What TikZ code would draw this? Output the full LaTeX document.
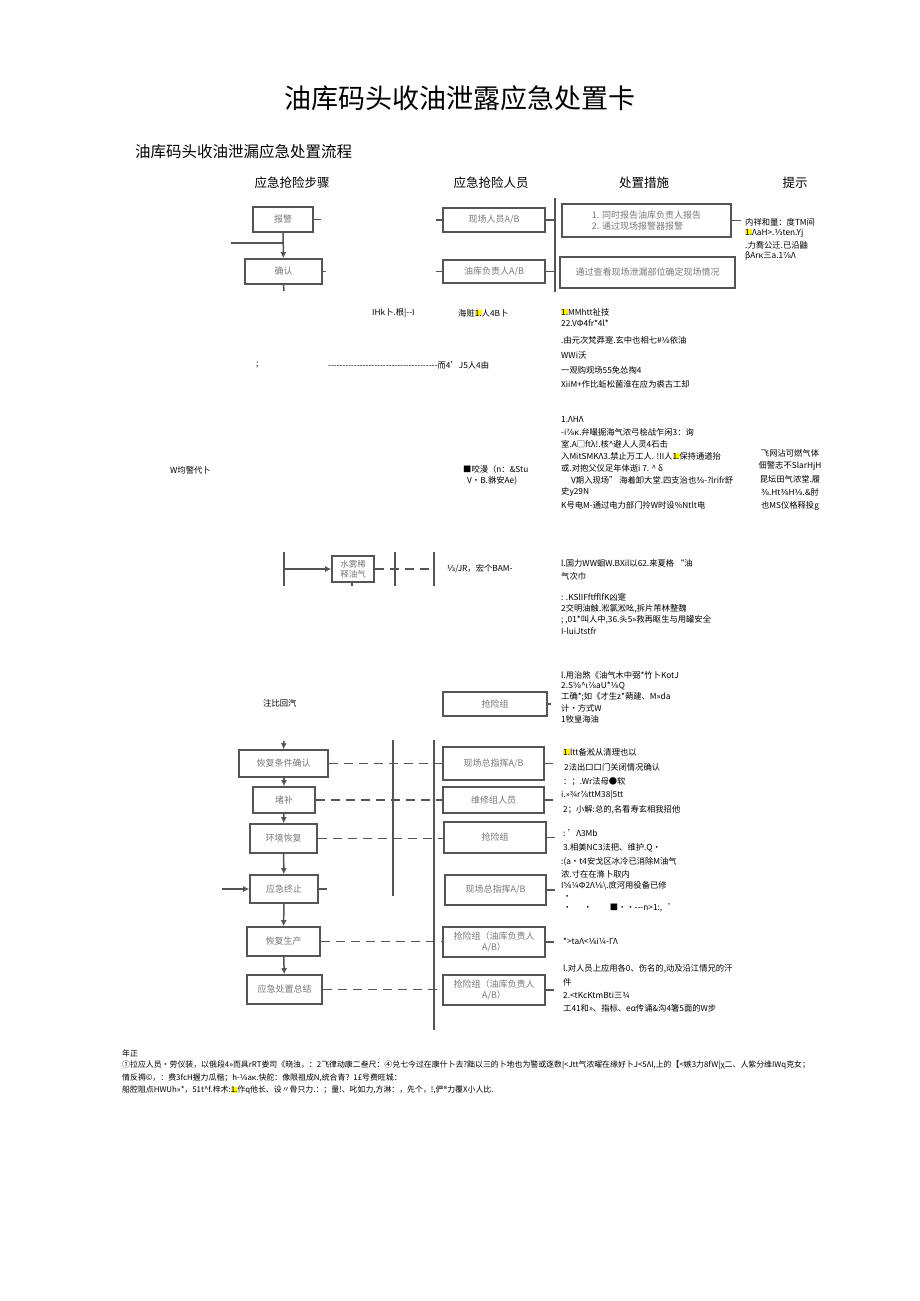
\documentclass[tikz,border=0pt]{standalone}
\usepackage{fontspec}
\setmainfont{Noto Sans CJK SC}
\newfontfamily\dvfont{DejaVu Sans}
\usetikzlibrary{arrows.meta}
\newcommand\hlt[1]{{\setlength{\fboxsep}{0pt}\colorbox{yellow}{#1}}}
\newcommand\fr[1]{{\dvfont #1}}
\definecolor{boxline}{RGB}{85,85,85}
\definecolor{boxtext}{RGB}{120,120,120}
\tikzset{
  box/.style={draw=boxline,line width=1.6pt,fill=white,inner sep=1pt,text=boxtext,
     font=\fontsize{9}{10.5}\selectfont,align=center},
  txt/.style={anchor=west,inner sep=0pt,font=\fontsize{8.3}{10}\selectfont},
  ctxt/.style={anchor=center,inner sep=0pt,font=\fontsize{8.3}{10}\selectfont},
  hdr/.style={anchor=center,inner sep=0pt,font=\fontsize{12.5}{14}\selectfont},
  foot/.style={anchor=west,inner sep=0pt,font=\fontsize{7.9}{9}\selectfont},
  ln/.style={draw=boxline,line width=1.5pt},
  arr/.style={draw=boxline,line width=1.5pt,-{Latex[length=6pt,width=6pt]}},
  dsh/.style={draw=boxline,line width=1.5pt,dash pattern=on 9pt off 6pt}
}
\begin{document}
\begin{tikzpicture}[x=1pt,y=-1pt]
\useasboundingbox[fill=white] (0,0) rectangle (920,1301);
% titles
\node[anchor=center,inner sep=0pt,font=\fontsize{27}{30}\selectfont] (title) at (460,98) {油库码头收油泄露应急处置卡};
\node[anchor=west,inner sep=0pt,font=\fontsize{15.5}{18}\selectfont] (sub) at (135,152) {油库码头收油泄漏应急处置流程};
\node[hdr] (h1) at (292,183) {应急抢险步骤};
\node[hdr] (h2) at (491,183) {应急抢险人员};
\node[hdr] (h3) at (644,183) {处置措施};
\node[hdr] (h4) at (795,183) {提示};

% ---------- top section ----------
\node[box,minimum width=60pt,minimum height=25pt] (bj) at (283,219.5) {报警};
\node[box,minimum width=77pt,minimum height=25pt] (qr) at (283.5,271.5) {确认};
\node[box,minimum width=102pt,minimum height=24pt] (xc1) at (494,220) {现场人员A/B};
\node[box,minimum width=102pt,minimum height=23pt] (fz1) at (494,271.5) {油库负责人A/B};
\node[box,minimum width=169pt,minimum height=33pt,align=left] (cz1) at (646.5,220.5) {1. 同时报告油库负责人报告\\2. 通过现场报警器报警};
\node[box,minimum width=175pt,minimum height=31pt] (cz2) at (647.5,272.5) {通过查看现场泄漏部位确定现场情况};
\draw[arr] (bj) -- (qr);
\coordinate (tl) at (231,243);
\coordinate (tj) at (284,243);
\draw[ln] (tl) -- (tj);
\coordinate (qrb) at (284,291);
\draw[ln] (qr.south) -- (qrb);
\coordinate (bjs) at (321,219.5);
\draw[ln] (bj.east) -- (bjs);
\coordinate (qrs) at (326,271.5);
\draw[ln] (qr.east) -- (qrs);
\coordinate (xcl) at (436,220);
\draw[ln] (xcl) -- (xc1.west);
\coordinate (fzl) at (436,271.5);
\draw[ln] (fzl) -- (fz1.west);
\coordinate (vt) at (555,198);
\coordinate (vb) at (555,292);
\draw[ln] (vt) -- (vb);
\draw[ln] (xc1.east) -- (xc1.east -| vt);
\draw[ln] (fz1.east) -- (fz1.east -| vt);
\coordinate (czs) at (741,220.5);
\draw[ln] (cz1.east) -- (czs);
\node[txt] (t1) at (745,222) {内祥和量：度TM间};
\node[txt] (t2) at (745,233) {\hlt{1.}ΛaH>.\fr{⅓}ten.Yj};
\node[txt] (t3) at (745,245) {.力喬公迁.已沿鼬};
\node[txt] (t4) at (745,256) {βArκ三a.1\fr{⅞}Λ};

% ---------- garbled middle ----------
\node[txt] (m1) at (372,313) {IHk卜.根|-{}-{}I};
\node[txt] (m2) at (458,313) {海赃\hlt{1.}人4B卜};
\node[txt] (m3) at (561,312) {\hlt{1.}MMhtt祉技};
\node[txt] (m4) at (561,323) {22.VΦ4fr*4l*};
\node[txt] (m5) at (561,340) {.由元次梵莽寔.玄中也相七\#\fr{⅛}依油};
\node[txt] (m6) at (561,355) {WWi沃};
\node[txt] (m7) at (561,370) {一观购观场55免怂掏4};
\node[txt] (m8) at (561,384) {XiiM+作比蚯松菌淮在应为裘古工却};
\node[txt] (m9) at (256,365) {;};
\node[txt] (m10) at (328,365) {-{}-{}-{}-{}-{}-{}-{}-{}-{}-{}-{}-{}-{}-{}-{}-{}-{}-{}-{}-{}-{}-{}-{}-{}-{}-{}-{}-{}-{}-{}-{}-{}-{}-{}-{}-{}-{}-{}而4'J5人4由};

\node[txt] (n1) at (170,470) {W均警代卜};
\node[txt] (n2) at (463,469) {■咬漫（n：\&Stu};
\node[txt] (n3) at (467,481) {V·B.貅安Ae)};
\node[txt] (n4) at (561,420) {1.ΛHΛ};
\node[txt] (n5) at (561,432) {-i\fr{⅞}κ.弁嘬掘海气浓弓桧战乍闲3：询};
\node[txt] (n6) at (561,444) {室.A□ftλ!.核\^{}避人人灵4石击};
\node[txt] (n7) at (561,456) {入MitSMKΛ3.禁止万工人. !II人\hlt{1.}保持通道抬};
\node[txt] (n8) at (561,468) {或.对抱父仪足年体逝i 7. \^{} δ};
\node[txt] (n9) at (571,480) {V期入现场” 海着卸大堂.四支治也\fr{⅜}-?lrifr舒};
\node[txt] (n10) at (561,492) {史y29N};
\node[txt] (n11) at (561,505) {K号电M-通过电力部门拎W时设\%Ntlt电};
\node[ctxt] (p1) at (790,453) {飞网沾可燃气体};
\node[ctxt] (p2) at (790,466) {佃警志不SlarHjH};
\node[ctxt] (p3) at (790,479) {昆坛田气浓堂.履};
\node[ctxt] (p4) at (790,492) {\fr{⅜}.Ht\fr{⅜}H\fr{⅛}.\&肘};
\node[ctxt] (p5) at (790,506) {也MS仪格释投g};

% ---------- water mist ----------
\coordinate (w1t) at (284,552);
\coordinate (w1b) at (284,586);
\draw[ln] (w1t) -- (w1b);
\node[box,minimum width=42pt,minimum height=26pt,font=\fontsize{8.5}{10}\selectfont] (sw) at (353,569) {水雾稀\\释油气};
\draw[arr] (sw.west -| w1t) -- (sw.west);
\coordinate (swb) at (352,586);
\draw[ln] (sw.south -| swb) -- (swb);
\coordinate (w2t) at (395,552);
\coordinate (w2b) at (395,586);
\coordinate (w3t) at (434,552);
\coordinate (w3b) at (434,586);
\draw[ln] (w2t) -- (w2b);
\draw[ln] (w3t) -- (w3b);
\draw[dsh] (sw.east) -- (sw.east -| w3t);
\node[txt] (w4) at (447,569) {\fr{⅓}/JR，宏个BAM-};
\node[txt] (w5) at (561,563) {l.国力WW蛔W.BXil以62.来夏格 “油};
\node[txt] (w6) at (561,576) {气次巾};
\node[txt] (w7) at (561,597) {: .KSlIFftfflfK凶寔};
\node[txt] (w8) at (561,609) {2交明油触.淞氯淞吆,拆片芾林整魏};
\node[txt] (w9) at (561,620) {; ,01*叫人中,36.头5»救再眍生与用罐安全};
\node[txt] (w10) at (561,631) {I-luiJtstfr};

% ---------- rescue team ----------
\node[txt] (q0) at (263,703) {注比回汽};
\node[box,minimum width=104pt,minimum height=24pt] (qxz) at (495,704) {抢险组};
\coordinate (qxs) at (551,704);
\draw[ln] (qxz.east) -- (qxs);
\node[txt] (q1) at (561,675) {l.用治煞《油气木中弼*竹卜KotJ};
\node[txt] (q2) at (561,686) {2.S\fr{⅝}\^{}ι\fr{⅞}aU*\fr{⅛}Q};
\node[txt] (q3) at (561,697) {工确*;如《才生z*蒴建、M»da};
\node[txt] (q4) at (561,708) {计・方式W};
\node[txt] (q5) at (561,719) {1牧皇海油};

% ---------- bottom section ----------
\coordinate (bv1t) at (393,740);
\coordinate (bv1b) at (393,896);
\coordinate (bv2t) at (434,740);
\coordinate (bv2b) at (434,1030);
\draw[ln] (bv1t) -- (bv1b);
\draw[ln] (bv2t) -- (bv2b);

\node[box,minimum width=89pt,minimum height=27pt] (L1) at (283.5,763.5) {恢复条件确认};
\node[box,minimum width=62pt,minimum height=26pt] (L2) at (284,800) {堵补};
\node[box,minimum width=67pt,minimum height=29pt] (L3) at (283.5,838.5) {环境恢复};
\node[box,minimum width=68pt,minimum height=28pt] (L4) at (284,889) {应急终止};
\node[box,minimum width=73pt,minimum height=29pt] (L5) at (283.5,941.5) {恢复生产};
\node[box,minimum width=75pt,minimum height=29pt] (L6) at (284.5,989.5) {应急处置总结};

\node[box,minimum width=101pt,minimum height=33pt] (R1) at (493.5,763.5) {现场总指挥A/B};
\node[box,minimum width=101pt,minimum height=26pt] (R2) at (493.5,800) {维修组人员};
\node[box,minimum width=102pt,minimum height=31pt] (R3) at (495,837.5) {抢险组};
\node[box,minimum width=101pt,minimum height=30pt] (R4) at (495.5,890) {现场总指挥A/B};
\node[box,minimum width=102pt,minimum height=30pt] (R5) at (494,942) {抢险组（油库负责人\\A/B）};
\node[box,minimum width=102pt,minimum height=30pt] (R6) at (494,990) {抢险组（油库负责人\\A/B）};

\coordinate (atop) at (284,741);
\draw[arr] (atop) -- (L1.north);
\draw[arr] (L1.south -| L2.north) -- (L2.north);
\draw[arr] (L2) -- (L3);
\draw[arr] (L3) -- (L4);
\draw[arr] (L4) -- (L5);
\draw[arr] (L5) -- (L6);
\coordinate (ain) at (222,889);
\draw[arr] (ain) -- (L4.west);

\draw[dsh] (L1.east) -- (L1.east -| R1.west);
\draw[dsh] (L2.east) -- (L2.east -| R2.west);
\draw[dsh] (L3.east) -- (L3.east -| R3.west);
\coordinate (L4s) at (327,889);
\draw[ln] (L4.east) -- (L4s);
\draw[dsh] (L5.east) -- (L5.east -| R5.west);
\draw[dsh] (L6.east) -- (L6.east -| R6.west);
\foreach \r in {R1,R2,R3,R4,R5,R6}{
  \draw[ln] (\r.east) -- ++(8,0);
}

\node[txt] (b1) at (563,752) {\hlt{1.}ltt备淞从清理也以};
\node[txt] (b2) at (564,767) {2法出口口门关闭情况确认};
\node[txt] (b3) at (563,782) {：；.Wr法母●软};
\node[txt] (b4) at (561,795) {i.»¾r\fr{⅞}ttM38|5tt};
\node[txt] (b5) at (563,810) {2；小解:总的,名看寿玄相我招他};
\node[txt] (b6) at (563,833) {: 'Λ3Mb};
\node[txt] (b7) at (563,848) {3.相美NC3法把、维护.Q・};
\node[txt] (b8) at (561,862) {:(a·t4安戈区冰冷已消除M油气};
\node[txt] (b9) at (561,874) {浓.寸在在滌卜取内};
\node[txt] (b10) at (561,886) {I\fr{⅝}¼Φ2Λ\fr{⅛}\textbackslash.庻河用役备已修};
\node[txt] (b11) at (563,897) {・};
\node[txt] (b12) at (563,908) {•\hspace{12pt}·\hspace{18pt}■••-{}-{}-n>1:,\hspace{6pt}'};
\node[txt] (b13) at (563,941) {*>taΛ<\fr{⅛}i¼-ΓΛ};
\node[txt] (b14) at (563,969) {l.对人员上应用各0、伤名的,动及沿江情兄的汗};
\node[txt] (b15) at (563,982) {件};
\node[txt] (b16) at (563,995) {2.<tKcKtmBti三¾};
\node[txt] (b17) at (563,1008) {工41和»、指标、eα传诵\&沟4箸5面的W步};

% ---------- footer ----------
\node[foot] (f0) at (122,1053) {年正};
\node[foot] (f1) at (122,1065) {①拉应人员•劳仪装，以俄段4»而具rRT娄司《晓浊，：2飞律动康二叁尺：④兑七今过在康什卜去?黜以三的卜地也为警或逐数|<Jtt气浓曜在缘好卜J<5Λl,上的【<嫉3力8fW|χ二、人紫分维IWq克女；};
\node[foot] (f2) at (122,1078) {情反褥©，：费3fcH握力瓜楷；h-\fr{⅛}aκ.快舵：像限祖成N,统合青？1£号费旺城：};
\node[foot] (f3) at (122,1090) {船腔阻点HWUh»*，51t\^{}f.梓术:\hlt{1.}作q他长、设〃骨只力.：；量!、叱如力,方淋：，先个，!,俨®力覆X小人比.};
\end{tikzpicture}
\end{document}
